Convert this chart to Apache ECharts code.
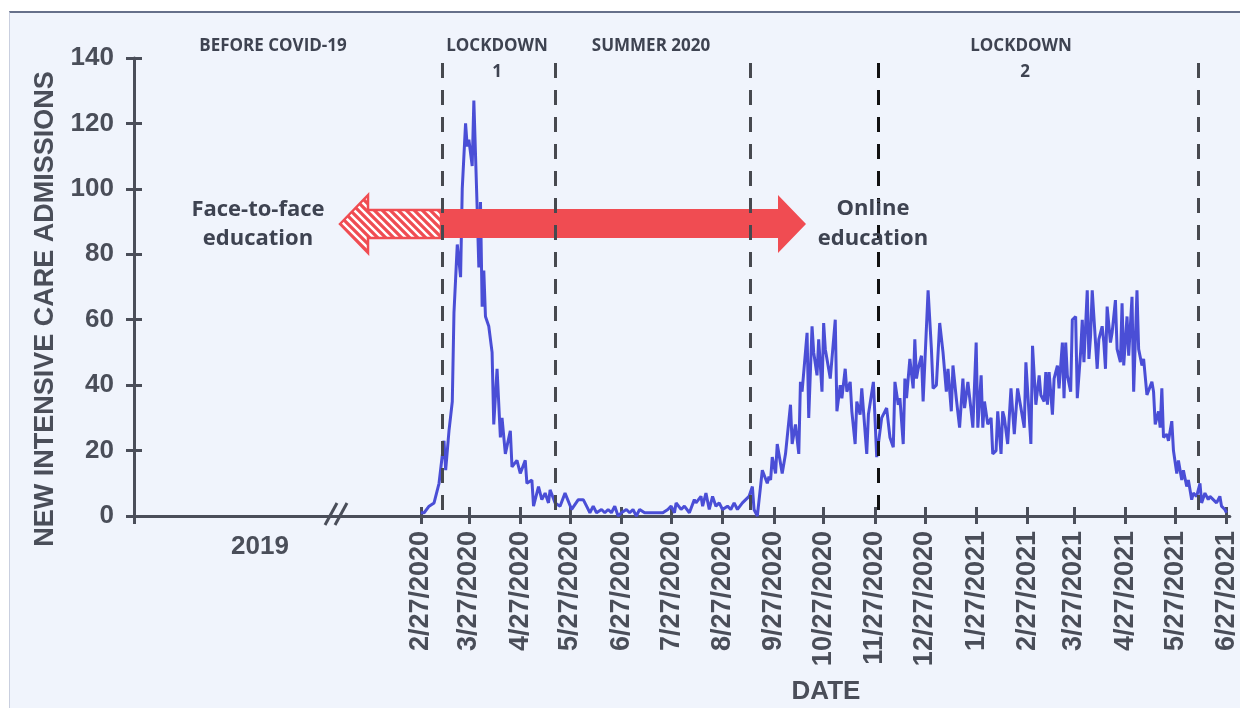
<!DOCTYPE html>
<html>
<head>
<meta charset="utf-8">
<script src="https://cdn.jsdelivr.net/npm/echarts@6/dist/echarts.min.js"></script>
<style>
  body { margin: 0; background: #ffffff; }
  #bg { position: absolute; left: 9px; top: 11px; width: 1231px; height: 697px; background: #f0f4fc;
        border-top: 2px solid #66708a; border-left: 1px solid #c9cfdf; box-sizing: border-box; }
  #chart { position: absolute; left: 0; top: 0; width: 1240px; height: 708px; }
</style>
</head>
<body>
<div id="bg"></div>
<div id="chart"></div>
<script>
// ---- data (x = days since 2/27/2020) ----
const admissionDays = [
  0,2,5,8,11,14,15,17,19,20,22,24,25,27,28,29,31,32,34,35,36,37,38,39,41,43,44,46,48,49,51,54,55,58,60,63,64,67,68,71,73,75,77,78,81,84,87,91,
  95,98,100,102,104,106,109,111,113,115,117,119,121,124,126,128,130,132,135,138,141,143,146,149,151,153,154,157,159,162,165,166,169,170,172,174,176,178,180,182,185,187,189,191,194,195,198,200,201,203,
  206,209,210,211,212,214,215,218,220,223,224,226,228,229,230,233,234,236,237,239,240,242,243,244,245,247,248,250,251,253,254,256,257,259,260,262,263,265,266,269,270,273,275,276,278,281,283,285,286,288,289,291,292,293,295,297,298,299,300,302,303,306,308,309,311,313,315,317,318,320,321,323,325,327,328,330,332,333,335,336,338,339,340,342,
  344,345,347,348,350,351,352,354,356,358,360,362,364,365,368,369,371,373,374,376,377,378,379,381,382,384,385,387,388,389,390,392,393,395,396,398,399,400,402,403,404,405,408,409,411,412,413,414,416,417,419,420,422,423,424,426,427,429,430,432,433,435,436,438,439,441,442,443,445,446,447,448,450,451,453,454,456,457,459,460,462,463,465,466,468,470,471,473,475,476,478,480,482,483,485,486
];
const admissions = [
  1,1,3,4,10,23,14,26,35,62,83,73,100,120,113,115,107,127,94,76,96,64,75,61,58,50,28,45,24,30,19,26,15,17,13,17,10,11,3,9,5,7,4,8,4,3,7,2,
  5,5,3,1,3,1,2,1,2,1,3,0,1,2,1,2,0,2,1,1,1,1,1,2,3,1,4,2,3,1,5,4,6,3,7,2,6,3,4,2,3,2,4,2,4,4,6,9,2,0,
  14,10,12,11,18,13,22,13,19,34,22,28,19,41,38,56,30,58,50,43,54,38,59,51,51,42,48,60,32,40,36,45,38,41,32,22,35,31,39,19,31,41,18,18,30,33,24,21,41,34,36,22,42,36,48,39,54,42,45,49,35,69,51,39,40,59,50,38,45,32,46,36,27,42,33,41,32,27,53,27,43,27,35,28,
  30,19,20,32,19,32,30,22,39,25,39,33,27,47,22,52,34,43,37,35,44,34,44,31,42,46,39,53,36,53,43,38,60,61,36,50,60,47,69,48,55,69,45,54,58,53,45,64,53,56,66,51,47,65,46,61,49,67,38,69,51,46,48,37,37,41,38,28,32,27,39,24,25,23,29,20,13,17,11,14,9,11,5,7,6,10,4,7,5,6,5,4,6,3,2,1
];
const tickDays = [0,29,60,90,121,151,182,213,243,274,304,335,366,394,425,455,486];
const tickLabels = ['2/27/2020','3/27/2020','4/27/2020','5/27/2020','6/27/2020','7/27/2020','8/27/2020',
  '9/27/2020','10/27/2020','11/27/2020','12/27/2020','1/27/2021','2/27/2021','3/27/2021','4/27/2021','5/27/2021','6/27/2021'];
const periodLineDays = [13, 81, 199, 276, 469];
const periodNames = ['BEFORE COVID-19', 'LOCKDOWN', '1', 'SUMMER 2020', 'LOCKDOWN', '2'];
const preCovidLabel = '2019';
const yTitle = 'NEW INTENSIVE CARE ADMISSIONS';
const xTitle = 'DATE';
const arrowLabels = ['Face-to-face', 'education', 'Online', 'education'];

const X_MIN = -173, X_MAX = 488;
const AXIS = '#4a4e59';
const TXT = '#3e4351';
const RED = '#f04c52';

function hatch() {
  const c = document.createElement('canvas');
  c.width = 8; c.height = 8;
  const g = c.getContext('2d');
  g.fillStyle = RED; g.fillRect(0, 0, 8, 8);
  g.strokeStyle = '#ffffff'; g.lineWidth = 2.4;
  g.beginPath();
  g.moveTo(-2, -2); g.lineTo(10, 10);
  g.moveTo(6, -2); g.lineTo(10, 2);
  g.moveTo(-2, 6); g.lineTo(2, 10);
  g.stroke();
  return c;
}

const chart = echarts.init(document.getElementById('chart'), null, { renderer: 'canvas' });
const axisFont = { fontFamily: 'Liberation Sans', fontWeight: 'bold', color: AXIS };
const annFont = "bold 22px 'Open Sans'";
const topFont = "bold 17px 'Open Sans'";

const option = {
  animation: false,
  backgroundColor: 'transparent',
  grid: { left: 134, right: 10, top: 58, bottom: 192, containLabel: false },
  xAxis: [
    {
      type: 'value', min: X_MIN, max: X_MAX, position: 'bottom',
      axisLine: { show: true, onZero: false, lineStyle: { color: AXIS, width: 3 } },
      axisTick: { show: true, length: 8, lineStyle: { color: AXIS, width: 3 }, customValues: [X_MIN].concat(tickDays) },
      axisLabel: Object.assign({ show: true, rotate: 90, fontSize: 27, margin: 15,
        customValues: tickDays,
        formatter: v => { const i = tickDays.indexOf(v); return i >= 0 ? tickLabels[i] : ''; } }, axisFont),
      splitLine: { show: false }
    },
    {
      type: 'value', min: X_MIN, max: X_MAX, position: 'bottom',
      axisLine: { show: false, onZero: false },
      axisTick: { show: true, inside: true, length: 9, lineStyle: { color: AXIS, width: 3 }, customValues: tickDays },
      axisLabel: { show: false },
      splitLine: { show: false }
    }
  ],
  yAxis: [
    {
      type: 'value', min: 0, max: 140, interval: 20, position: 'left',
      axisLine: { show: true, onZero: false, lineStyle: { color: AXIS, width: 3 } },
      axisTick: { show: true, length: 8, lineStyle: { color: AXIS, width: 3 } },
      axisLabel: Object.assign({ fontSize: 26, margin: 20 }, axisFont),
      splitLine: { show: false }
    },
    {
      type: 'value', min: 0, max: 140, interval: 20, position: 'left', offset: 0,
      axisLine: { show: false, onZero: false },
      axisTick: { show: true, inside: true, length: 8, lineStyle: { color: AXIS, width: 3 } },
      axisLabel: { show: false },
      splitLine: { show: false }
    }
  ],
  series: [{
    type: 'line',
    xAxisIndex: 0, yAxisIndex: 0,
    data: admissionDays.map((d, i) => [d, admissions[i]]),
    symbol: 'none',
    lineStyle: { color: '#4a4ed6', width: 3 },
    z: 3,
    markLine: {
      silent: true,
      symbol: ['none', 'none'],
      label: { show: false },
      lineStyle: { type: [15, 12], width: 3, opacity: 1 },
      emphasis: { disabled: true },
      data: periodLineDays.map((d, i) => [
        { coord: [d, 138.5], lineStyle: { color: i === 3 ? '#111111' : '#47494f', type: [15, 12], width: 3 } },
        { coord: [d, 0] }
      ])
    }
  }],
  graphic: [
    // break mark on x axis
    { type: 'line', shape: { x1: 325, y1: 525, x2: 337, y2: 503 }, style: { stroke: AXIS, lineWidth: 3 }, z: 10 },
    { type: 'line', shape: { x1: 335, y1: 525, x2: 347, y2: 503 }, style: { stroke: AXIS, lineWidth: 3 }, z: 10 },
    // arrows
    { type: 'polygon', shape: { points: [[340,224],[368,195],[368,210],[441,210],[441,238],[368,238],[368,253]] },
      style: { fill: { image: hatch(), repeat: 'repeat' }, stroke: RED, lineWidth: 2.5 }, z: 5 },
    { type: 'polygon', shape: { points: [[441,209],[778,209],[778,195],[806,224],[778,253],[778,238],[441,238]] },
      style: { fill: RED }, z: 5 },
    // annotation texts
    { type: 'text', x: 258, y: 210, style: { text: arrowLabels[0], font: annFont, fill: TXT, textAlign: 'center', textVerticalAlign: 'middle' }, z: 6 },
    { type: 'text', x: 258, y: 239, style: { text: arrowLabels[1], font: annFont, fill: TXT, textAlign: 'center', textVerticalAlign: 'middle' }, z: 6 },
    { type: 'text', x: 873, y: 209, style: { text: arrowLabels[2], font: annFont, fill: TXT, textAlign: 'center', textVerticalAlign: 'middle' }, z: 6 },
    { type: 'text', x: 873, y: 239, style: { text: arrowLabels[3], font: annFont, fill: TXT, textAlign: 'center', textVerticalAlign: 'middle' }, z: 6 },
    // period names
    { type: 'text', x: 273, y: 46, style: { text: periodNames[0], font: topFont, fill: TXT, textAlign: 'center', textVerticalAlign: 'middle' } },
    { type: 'text', x: 497, y: 46, style: { text: periodNames[1], font: topFont, fill: TXT, textAlign: 'center', textVerticalAlign: 'middle' } },
    { type: 'text', x: 497, y: 72, style: { text: periodNames[2], font: topFont, fill: TXT, textAlign: 'center', textVerticalAlign: 'middle' } },
    { type: 'text', x: 651, y: 46, style: { text: periodNames[3], font: topFont, fill: TXT, textAlign: 'center', textVerticalAlign: 'middle' } },
    { type: 'text', x: 1021, y: 46, style: { text: periodNames[4], font: topFont, fill: TXT, textAlign: 'center', textVerticalAlign: 'middle' } },
    { type: 'text', x: 1025, y: 72, style: { text: periodNames[5], font: topFont, fill: TXT, textAlign: 'center', textVerticalAlign: 'middle' } },
    // axis titles
    { type: 'text', x: 46, y: 309, rotation: Math.PI / 2,
      style: { text: yTitle, font: "bold 27px 'Liberation Sans'", fill: AXIS, textAlign: 'center', textVerticalAlign: 'middle' } },
    { type: 'text', x: 826, y: 692, style: { text: xTitle, font: "bold 26px 'Liberation Sans'", fill: AXIS, textAlign: 'center', textVerticalAlign: 'middle' } },
    { type: 'text', x: 260, y: 547, style: { text: preCovidLabel, font: "bold 26px 'Liberation Sans'", fill: AXIS, textAlign: 'center', textVerticalAlign: 'middle' } }
  ]
};
chart.setOption(option);
</script>
</body>
</html>
